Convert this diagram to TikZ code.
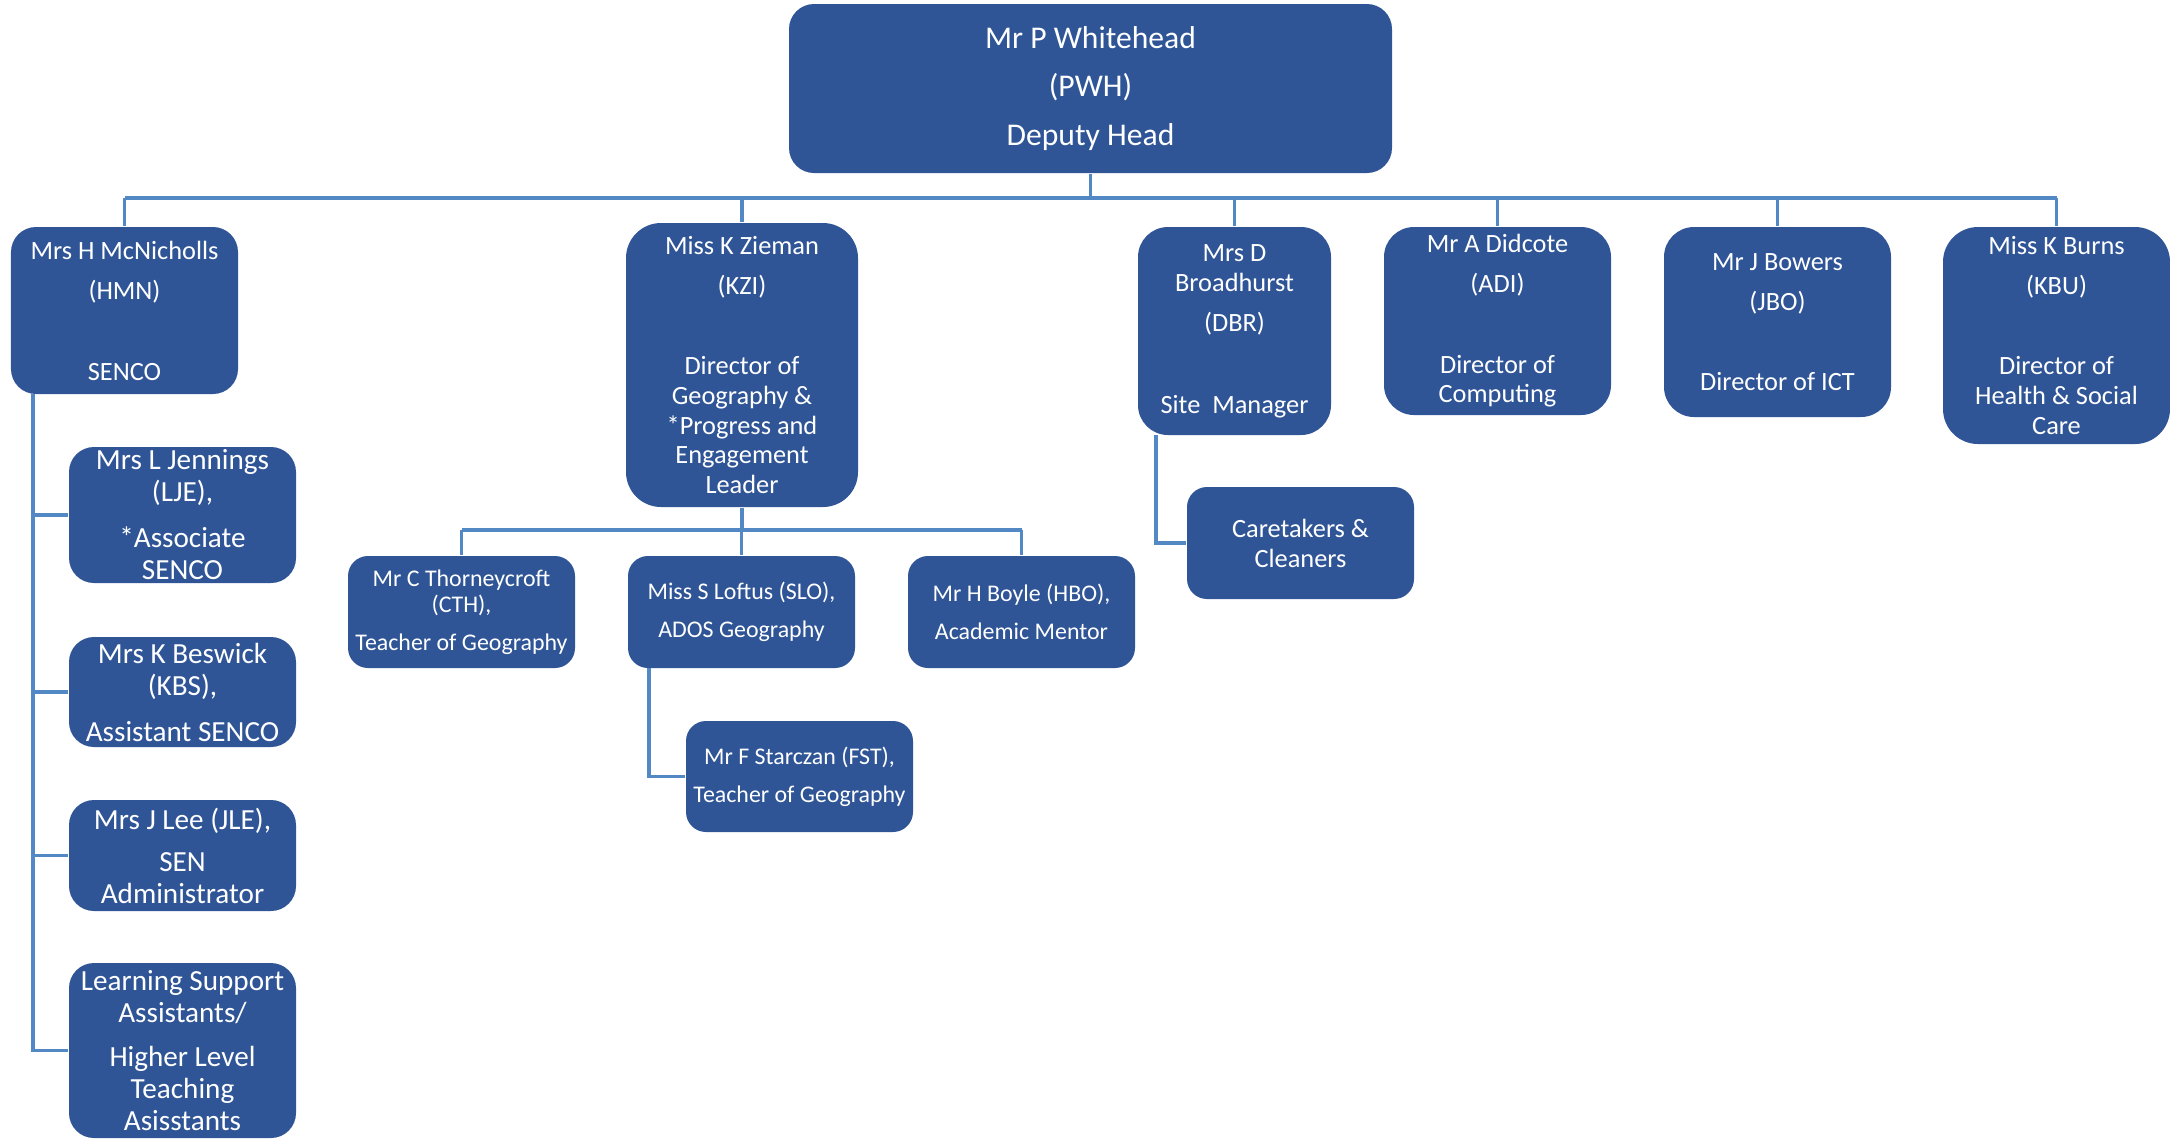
\documentclass[tikz,border=0pt]{standalone}
\usepackage{fontspec}
\setmainfont{Carlito}

\definecolor{boxblue}{HTML}{2F5597}
\definecolor{lineblue}{HTML}{5289C4}

\tikzset{
    staff/.style={rectangle, rounded corners=2.5mm, fill=boxblue, text=white, align=center, inner sep=0pt, minimum width=2.27cm},
    link/.style={draw=lineblue, line width=0.9pt},
    textmid/.style={font=\fontsize{7.5}{8.5}\selectfont},
    textbig/.style={font=\fontsize{8.3}{9.1}\selectfont},
    textsmall/.style={font=\fontsize{6.8}{7.4}\selectfont, rounded corners=2mm},
}

\begin{document}
\begin{tikzpicture}
    \useasboundingbox (0,0) rectangle (21.70,-11.39);

    %Place deputy head node
    \node[staff, minimum width=6.03cm, minimum height=1.69cm, font=\fontsize{9}{13.9}\selectfont] (pwh) at (10.905,-0.885) {Mr P Whitehead\\(PWH)\\Deputy Head};

    %Place SENCO node
    \node[staff, textmid, minimum height=1.67cm] (hmn) at (1.245,-3.105) {Mrs H McNicholls\\[2.9pt](HMN)\\[14.5pt]SENCO};

    %Place geography node
    \node[staff, textmid, rounded corners=3.5mm, minimum width=2.32cm, minimum height=2.84cm] (kzi) at (7.42,-3.65) {Miss K Zieman\\[2.9pt](KZI)\\[14.3pt]Director of\\Geography \&\\*Progress and\\Engagement\\Leader};

    %Place site manager node
    \node[staff, textmid, rounded corners=3mm, minimum width=1.93cm, minimum height=2.08cm] (dbr) at (12.345,-3.31) {Mrs D\\Broadhurst\\[2.9pt](DBR)\\[14.8pt]Site~~Manager};

    %Place computing node
    \node[staff, textmid, rounded corners=3mm, minimum height=1.88cm] (adi) at (14.975,-3.21) {Mr A Didcote\\[2.9pt](ADI)\\[14.3pt]Director of\\Computing};

    %Place ICT node
    \node[staff, textmid, rounded corners=3mm, minimum height=1.90cm] (jbo) at (17.775,-3.22) {Mr J Bowers\\[2.9pt](JBO)\\[14.3pt]Director of ICT};

    %Place health and social care node
    \node[staff, textmid, rounded corners=3.5mm, minimum height=2.17cm] (kbu) at (20.565,-3.355) {Miss K Burns\\[2.9pt](KBU)\\[14.3pt]Director of\\Health \& Social\\Care};

    %Place SEN team nodes
    \node[staff, textbig, minimum height=1.36cm] (lje) at (1.825,-5.15) {Mrs L Jennings\\(LJE),\\[4pt]*Associate\\SENCO};
    \node[staff, textbig, minimum height=1.10cm] (kbs) at (1.825,-6.92) {Mrs K Beswick\\(KBS),\\[4pt]Assistant SENCO};
    \node[staff, textbig, minimum height=1.11cm] (jle) at (1.825,-8.555) {Mrs J Lee (JLE),\\[2.9pt]SEN\\Administrator};
    \node[staff, textbig, minimum height=1.75cm] (lsa) at (1.825,-10.505) {Learning Support\\Assistants/\\[3.4pt]Higher Level\\Teaching\\Asisstants};

    %Place geography team nodes
    \node[staff, textsmall, minimum height=1.12cm] (cth) at (4.615,-6.12) {Mr C Thorneycroft\\(CTH),\\[3.4pt]Teacher of Geography};
    \node[staff, textsmall, minimum height=1.12cm] (slo) at (7.415,-6.12) {Miss S Loftus (SLO),\\[3.4pt]ADOS Geography};
    \node[staff, textsmall, minimum height=1.12cm] (hbo) at (10.215,-6.12) {Mr H Boyle (HBO),\\[3.4pt]Academic Mentor};
    \node[staff, textsmall, minimum height=1.11cm] (fst) at (7.995,-7.765) {Mr F Starczan (FST),\\[3.4pt]Teacher of Geography};

    %Place caretakers node
    \node[staff, textmid, rounded corners=2mm, minimum height=1.12cm] (care) at (13.005,-5.43) {Caretakers \&\\Cleaners};

    %Draw lines from deputy head
    \coordinate (bus) at (0,-1.98);
    \draw[link] (pwh.south) -- (pwh.south |- bus);
    \draw[link] (hmn.north |- bus) -- (kbu.north |- bus);
    \draw[link] (hmn.north |- bus) -- (hmn.north);
    \draw[link] (kzi.north |- bus) -- (kzi.north);
    \draw[link] (dbr.north |- bus) -- (dbr.north);
    \draw[link] (adi.north |- bus) -- (adi.north);
    \draw[link] (jbo.north |- bus) -- (jbo.north);
    \draw[link] (kbu.north |- bus) -- (kbu.north);

    %Draw lines for SEN team
    \coordinate (trunk) at (0.33,-3.94);
    \draw[link] (trunk) |- (lsa.west);
    \draw[link] (trunk |- lje.west) -- (lje.west);
    \draw[link] (trunk |- kbs.west) -- (kbs.west);
    \draw[link] (trunk |- jle.west) -- (jle.west);

    %Draw lines for geography team
    \coordinate (geobus) at (0,-5.30);
    \draw[link] (kzi.south) -- (kzi.south |- geobus);
    \draw[link] (cth.north |- geobus) -- (hbo.north |- geobus);
    \draw[link] (cth.north |- geobus) -- (cth.north);
    \draw[link] (slo.north |- geobus) -- (slo.north);
    \draw[link] (hbo.north |- geobus) -- (hbo.north);
    \coordinate (sloleg) at (6.49,-6.68);
    \draw[link] (sloleg) |- (fst.west);

    %Draw line to caretakers
    \coordinate (dbrleg) at (11.56,-4.35);
    \draw[link] (dbrleg) |- (care.west);
\end{tikzpicture}
\end{document}
